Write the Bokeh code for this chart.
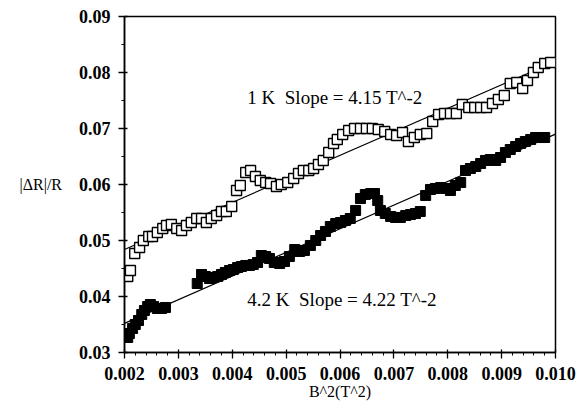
from bokeh.plotting import figure
from bokeh.models import Range1d, Label, FixedTicker
from bokeh.embed import file_html
from bokeh.resources import INLINE

# 1 K data (open squares)
b2_1k = [0.00206, 0.00211, 0.00219, 0.00228, 0.00235, 0.00245, 0.00252, 0.00261, 0.00271, 0.00278,
         0.00287, 0.00297, 0.00306, 0.00315, 0.00324, 0.00334, 0.00343, 0.00352, 0.00361, 0.00371,
         0.00380, 0.00389, 0.00399, 0.00408, 0.00415, 0.00425, 0.00434, 0.00443, 0.00452, 0.00462,
         0.00471, 0.00482, 0.00491, 0.00503, 0.00514, 0.00523, 0.00532, 0.00542, 0.00551, 0.00560,
         0.00569, 0.00579, 0.00588, 0.00595, 0.00605, 0.00616, 0.00627, 0.00638, 0.00649, 0.00660,
         0.00671, 0.00683, 0.00694, 0.00705, 0.00716, 0.00727, 0.00738, 0.00749, 0.00761, 0.00772,
         0.00783, 0.00794, 0.00805, 0.00816, 0.00827, 0.00839, 0.00850, 0.00861, 0.00872, 0.00883,
         0.00894, 0.00905, 0.00916, 0.00928, 0.00939, 0.00948, 0.00959, 0.00968, 0.00980, 0.00991]
dr_1k = [0.04357, 0.04464, 0.04768, 0.04875, 0.05000, 0.05071, 0.05071, 0.05143, 0.05214, 0.05268,
         0.05286, 0.05214, 0.05179, 0.05268, 0.05321, 0.05393, 0.05393, 0.05321, 0.05393, 0.05446,
         0.05518, 0.05518, 0.05607, 0.05893, 0.05982, 0.06214, 0.06250, 0.06143, 0.06071, 0.06036,
         0.06018, 0.05964, 0.06000, 0.06036, 0.06107, 0.06196, 0.06250, 0.06250, 0.06286, 0.06357,
         0.06429, 0.06571, 0.06732, 0.06804, 0.06893, 0.06964, 0.07000, 0.07000, 0.07000, 0.07000,
         0.06982, 0.06946, 0.06893, 0.06875, 0.06929, 0.06768, 0.06839, 0.06893, 0.06911, 0.07125,
         0.07250, 0.07268, 0.07268, 0.07268, 0.07429, 0.07375, 0.07375, 0.07375, 0.07375, 0.07446,
         0.07518, 0.07589, 0.07804, 0.07821, 0.07714, 0.07857, 0.08000, 0.08089, 0.08161, 0.08179]

# 4.2 K data (filled squares)
b2_42k = [0.00206, 0.00209, 0.00215, 0.00220, 0.00226, 0.00232, 0.00237, 0.00243, 0.00248, 0.00254,
          0.00261, 0.00269, 0.00276, 0.00335, 0.00343, 0.00350, 0.00358, 0.00365, 0.00373, 0.00380,
          0.00387, 0.00395, 0.00402, 0.00410, 0.00417, 0.00425, 0.00432, 0.00439, 0.00447, 0.00454,
          0.00462, 0.00469, 0.00478, 0.00488, 0.00497, 0.00506, 0.00516, 0.00525, 0.00534, 0.00545,
          0.00555, 0.00564, 0.00573, 0.00582, 0.00592, 0.00601, 0.00610, 0.00619, 0.00629, 0.00638,
          0.00647, 0.00657, 0.00664, 0.00670, 0.00675, 0.00684, 0.00694, 0.00703, 0.00712, 0.00722,
          0.00731, 0.00740, 0.00749, 0.00759, 0.00768, 0.00777, 0.00787, 0.00796, 0.00805, 0.00814,
          0.00824, 0.00833, 0.00842, 0.00852, 0.00861, 0.00870, 0.00879, 0.00889, 0.00898, 0.00907,
          0.00916, 0.00926, 0.00935, 0.00944, 0.00954, 0.00963, 0.00972, 0.00980]
dr_42k = [0.03268, 0.03339, 0.03429, 0.03500, 0.03571, 0.03679, 0.03750, 0.03821, 0.03857, 0.03821,
          0.03786, 0.03786, 0.03804, 0.04232, 0.04393, 0.04357, 0.04321, 0.04339, 0.04357, 0.04393,
          0.04429, 0.04464, 0.04482, 0.04518, 0.04536, 0.04554, 0.04554, 0.04571, 0.04607, 0.04732,
          0.04714, 0.04679, 0.04607, 0.04589, 0.04625, 0.04714, 0.04839, 0.04804, 0.04821, 0.04911,
          0.05000, 0.05089, 0.05161, 0.05250, 0.05304, 0.05321, 0.05357, 0.05393, 0.05536, 0.05750,
          0.05821, 0.05839, 0.05839, 0.05714, 0.05536, 0.05482, 0.05429, 0.05411, 0.05411, 0.05446,
          0.05464, 0.05482, 0.05518, 0.05804, 0.05911, 0.05929, 0.05946, 0.05929, 0.05893, 0.05982,
          0.06036, 0.06250, 0.06286, 0.06321, 0.06375, 0.06429, 0.06446, 0.06429, 0.06482, 0.06571,
          0.06625, 0.06679, 0.06732, 0.06768, 0.06804, 0.06839, 0.06839, 0.06839]

# linear fits
fit_x = [0.002, 0.010]
fit_1k = [0.0484, 0.0820]
fit_42k = [0.0352, 0.0690]

x_ticks = [0.002, 0.003, 0.004, 0.005, 0.006, 0.007, 0.008, 0.009, 0.010]
x_tick_labels = ["0.002", "0.003", "0.004", "0.005", "0.006", "0.007", "0.008", "0.009", "0.010"]
y_ticks = [0.03, 0.04, 0.05, 0.06, 0.07, 0.08, 0.09]
y_tick_labels = ["0.03", "0.04", "0.05", "0.06", "0.07", "0.08", "0.09"]

label_1k = "1 K\u00a0\u00a0Slope = 4.15 T^-2"
label_42k = "4.2 K\u00a0\u00a0Slope = 4.22 T^-2"

FONT = "Liberation Serif"

p = figure(width=577, height=412, output_backend="svg", toolbar_location=None,
           x_range=Range1d(0.002, 0.010), y_range=Range1d(0.03, 0.09),
           min_border_left=124, min_border_right=22, min_border_top=16, min_border_bottom=60)
p.background_fill_color = "white"
p.border_fill_color = "white"
p.grid.visible = False
p.outline_line_color = "black"
p.outline_line_width = 1.5

p.line(fit_x, fit_1k, line_color="black", line_width=1.2)
p.line(fit_x, fit_42k, line_color="black", line_width=1.2)

p.scatter(b2_1k, dr_1k, marker="square", size=10, fill_color="white",
          line_color="black", line_width=1.4)
p.scatter(b2_42k, dr_42k, marker="square", size=10, fill_color="black",
          line_color="black", line_width=1)

p.add_layout(Label(x=0.00428, y=0.07554, text=label_1k, text_font=FONT, text_color="black",
                   text_font_size="19px", text_baseline="middle", text_align="left"))
p.add_layout(Label(x=0.00428, y=0.03946, text=label_42k, text_font=FONT, text_color="black",
                   text_font_size="19px", text_baseline="middle", text_align="left"))

xa = p.xaxis[0]
xa.ticker = FixedTicker(ticks=x_ticks, minor_ticks=[0.002 + 0.0002 * i for i in range(41)])
xa.major_label_overrides = {t: l for t, l in zip(x_ticks, x_tick_labels)}
xa.axis_label = "B^2(T^2)"
ya = p.yaxis[0]
ya.ticker = FixedTicker(ticks=y_ticks, minor_ticks=[0.03 + 0.005 * i for i in range(13)])
ya.major_label_overrides = {t: l for t, l in zip(y_ticks, y_tick_labels)}
ya.axis_label = "|ΔR|/R"
ya.axis_label_orientation = "horizontal"

for ax in (xa, ya):
    ax.axis_line_color = "black"
    ax.axis_line_width = 1.5
    ax.major_tick_line_color = "black"
    ax.major_tick_line_width = 1.3
    ax.major_tick_out = 6
    ax.major_tick_in = 3
    ax.minor_tick_line_color = "black"
    ax.minor_tick_out = 3
    ax.minor_tick_in = 0
    ax.major_label_text_font = FONT
    ax.major_label_text_font_size = "18px"
    ax.major_label_text_font_style = "bold"
    ax.major_label_text_color = "black"
    ax.axis_label_text_font = FONT
    ax.axis_label_text_font_style = "normal"
    ax.axis_label_text_color = "black"

xa.major_label_standoff = 8
xa.axis_label_standoff = 0
xa.axis_label_text_font_size = "16px"
ya.major_label_standoff = 8
ya.axis_label_standoff = 14
ya.axis_label_text_font_size = "16px"

open("out.html", "w").write(file_html(p, INLINE))
